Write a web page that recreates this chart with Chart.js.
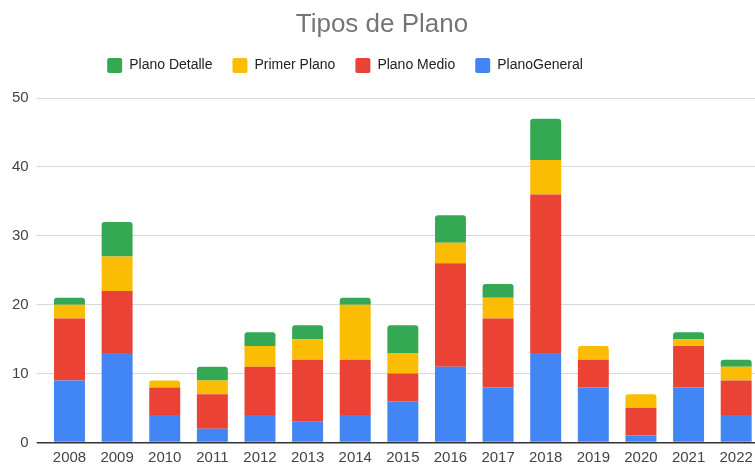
<!DOCTYPE html>
<html>
<head>
<meta charset="utf-8">
<script src="https://cdn.jsdelivr.net/npm/chart.js@4"></script>
<style>
  html, body { margin: 0; padding: 0; background: #fff; overflow: hidden; }
</style>
</head>
<body>
<canvas id="tiposPlanoChart" width="765" height="465"></canvas>
<script>
// Datos
const anios = ['2008', '2009', '2010', '2011', '2012', '2013', '2014', '2015', '2016', '2017', '2018', '2019', '2020', '2021', '2022'];
const planoGeneral = [9, 13, 4, 2, 4, 3, 4, 6, 11, 8, 13, 8, 1, 8, 4];
const planoMedio = [9, 9, 4, 5, 7, 9, 8, 4, 15, 10, 23, 4, 4, 6, 5];
const primerPlano = [2, 5, 1, 2, 3, 3, 8, 3, 3, 3, 5, 2, 2, 1, 2];
const planoDetalle = [1, 5, 0, 2, 2, 2, 1, 4, 4, 2, 6, 0, 0, 1, 1];
const ticksY = [0, 10, 20, 30, 40, 50];

// Solo el segmento superior de cada barra lleva esquinas redondeadas
function radioSuperior(ctx) {
    const datasets = ctx.chart.data.datasets;
    for (let k = ctx.datasetIndex + 1; k < datasets.length; k++) {
        if (datasets[k].data[ctx.dataIndex] > 0) return 0;
    }
    return { topLeft: 3, topRight: 3, bottomLeft: 0, bottomRight: 0 };
}

// Mueve la leyenda a su sitio (a la izquierda del centro y más arriba)
const moverLeyenda = {
    id: 'moverLeyenda',
    afterLayout(chart) {
        const l = chart.legend;
        if (!l) return;
        l.left -= 37; l.right -= 37;
        l.top -= 15; l.bottom -= 15;
    }
};

const fuente = "Arial, 'Liberation Sans', sans-serif";

const ctx = document.getElementById('tiposPlanoChart').getContext('2d');
const tiposPlanoChart = new Chart(ctx, {
    type: 'bar',
    data: {
        labels: anios,
        datasets: [
            { label: 'PlanoGeneral', data: planoGeneral, backgroundColor: '#4285F4' },
            { label: 'Plano Medio', data: planoMedio, backgroundColor: '#EA4335' },
            { label: 'Primer Plano', data: primerPlano, backgroundColor: '#FBBC04' },
            { label: 'Plano Detalle', data: planoDetalle, backgroundColor: '#34A853' }
        ].map(ds => Object.assign(ds, {
            borderWidth: 0,
            borderSkipped: false,
            borderRadius: radioSuperior,
            barPercentage: 0.65,
            categoryPercentage: 1
        }))
    },
    options: {
        responsive: false,
        animation: false,
        layout: { padding: { left: 4, right: 5, top: 0, bottom: -8 } },
        plugins: {
            title: {
                display: true,
                text: 'Tipos de Plano',
                color: '#757575',
                font: { family: fuente, size: 26, weight: 'normal', lineHeight: 1 },
                padding: { top: 12, bottom: 15 }
            },
            legend: {
                display: true,
                position: 'top',
                reverse: true,
                labels: {
                    color: '#222',
                    font: { family: fuente, size: 14 },
                    boxWidth: 15,
                    boxHeight: 15,
                    padding: 20,
                    useBorderRadius: true,
                    borderRadius: 2
                }
            },
            tooltip: { enabled: false }
        },
        scales: {
            x: {
                stacked: true,
                grid: { display: false, drawTicks: false },
                border: { display: false },
                ticks: {
                    color: '#444',
                    font: { family: fuente, size: 15, lineHeight: 1.1 },
                    padding: 7,
                    maxRotation: 0,
                    autoSkip: false
                }
            },
            y: {
                stacked: true,
                min: 0,
                max: 50,
                afterBuildTicks: axis => { axis.ticks = ticksY.map(v => ({ value: v })); },
                grid: {
                    color: c => c.tick && c.tick.value === 0 ? '#333' : '#d9d9d9',
                    lineWidth: c => c.tick && c.tick.value === 0 ? 1.5 : 1,
                    drawTicks: true,
                    tickLength: 9
                },
                border: { display: false },
                ticks: {
                    color: '#444',
                    font: { family: fuente, size: 15 },
                    padding: 8
                }
            }
        }
    },
    plugins: [moverLeyenda]
});
</script>
</body>
</html>
